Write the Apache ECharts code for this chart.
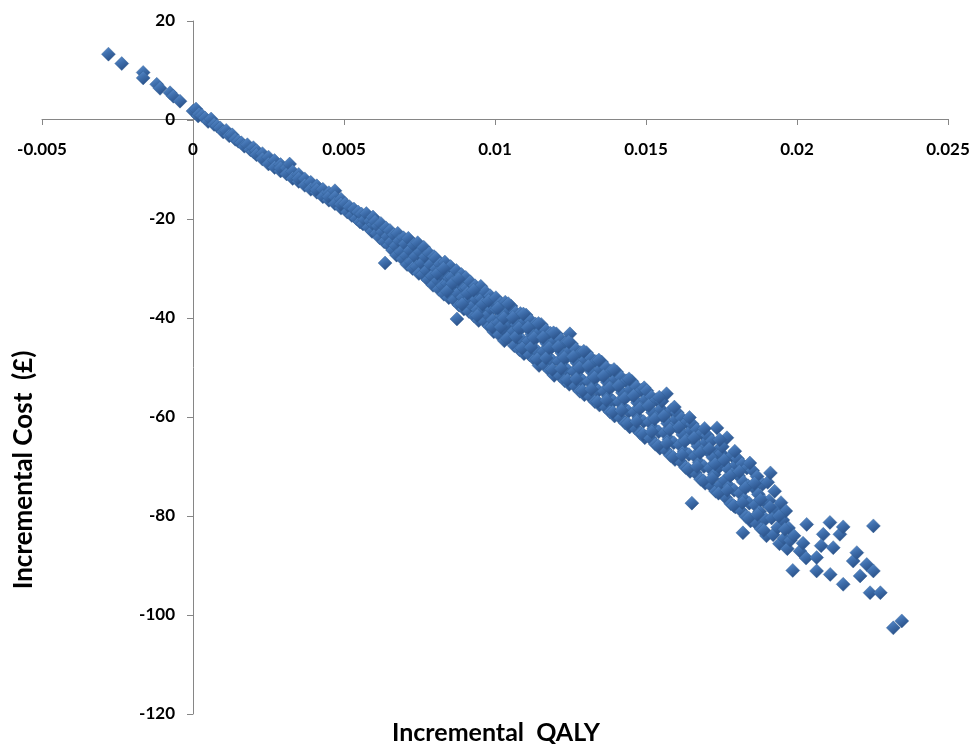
<!DOCTYPE html>
<html><head><meta charset="utf-8">
<script src="https://cdn.jsdelivr.net/npm/echarts@6/dist/echarts.min.js"></script>
<style>html,body{margin:0;padding:0;background:#fff}#c{width:975px;height:744px}</style>
</head><body><div id="c"></div>
<script>
const xTitle = 'Incremental  QALY';
const yTitle = 'Incremental Cost  (£)';

// Points with negative incremental QALY (upper-left)
const upperLeft = [[-0.0028,13.3],[-0.00236,11.4],[-0.00165,9.6],[-0.00165,8.5],[-0.0012,7.2],[-0.00109,6.4],[-0.00076,5.5],[-0.00065,4.8],[-0.00043,3.8]];

// Band 0 .. 0.005
const bandA = [[0,1.8],[0.00017,0.8],[0.0001,2.2],[0.0002,1.2],[0.0003,0.9],[0.0004,0.4],[0.0005,-0.3],[0.0006,0.2],[0.0007,-0.9],[0.0008,-1.2],[0.0009,-1.6],[0.001,-2.4],[0.0011,-2.1],[0.0012,-3.2],[0.0013,-3.0],[0.0014,-3.9],[0.0015,-4.3],[0.0016,-4.6],[0.0017,-5.3],[0.0018,-5.0],[0.0019,-6.0],[0.002,-6.4],[0.002,-5.6],
[0.0021,-6.2],[0.0021,-7.0],[0.0023,-6.8],[0.0023,-7.9],[0.0025,-7.5],[0.0025,-8.9],[0.0027,-8.2],[0.0027,-9.6],[0.0029,-9.0],[0.0029,-10.3],[0.0029,-9.7],[0.0031,-9.7],[0.0031,-10.9],[0.0032,-8.9],[0.0033,-10.4],[0.0033,-11.8],[0.0035,-11.0],[0.0035,-12.4],[0.0035,-11.8],[0.0037,-11.9],[0.0037,-13.2],[0.0039,-12.6],[0.0039,-14.0],[0.0041,-13.3],[0.0041,-14.6],[0.0041,-14.1],[0.0043,-14.0],[0.0043,-15.5],[0.0045,-14.7],[0.0045,-16.2],[0.0045,-15.5],[0.0047,-14.3],[0.0047,-15.6],[0.0047,-16.9],[0.0049,-16.0],[0.0049,-17.8],[0.0049,-17.0]];

// Band 0.005 .. 0.01
const bandB = [[0.00504,-16.9],[0.00511,-18.6],[0.00518,-17.5],[0.00526,-19.3],[0.00533,-18.0],[0.00541,-19.9],[0.00547,-18.6],[0.00553,-20.6],
[0.00558,-19.0],[0.00563,-21.0],[0.00569,-20.1],[0.00574,-18.9],[0.00581,-21.7],[0.00587,-20.4],[0.00593,-22.5],[0.00598,-21.1],[0.00596,-19.6],
[0.00603,-20.5],[0.00608,-22.9],[0.00612,-21.4],[0.00618,-23.8],[0.00622,-20.9],[0.00627,-22.6],[0.00633,-24.6],[0.00636,-28.9],[0.00639,-21.8],[0.00644,-23.5],[0.00648,-25.3],
[0.00652,-22.3],[0.00656,-24.6],[0.00661,-26.3],[0.00665,-23.2],[0.00671,-25.4],[0.00674,-27.3],[0.00678,-22.9],[0.00683,-24.4],[0.00688,-26.6],[0.00694,-28.1],[0.00697,-23.8],
[0.00702,-25.0],[0.00706,-27.4],[0.00709,-29.2],[0.00713,-23.9],[0.00718,-26.3],[0.00722,-28.6],[0.00727,-30.0],[0.00731,-25.2],[0.00736,-27.5],[0.00741,-29.6],[0.00744,-24.8],[0.00748,-31.0],
[0.00752,-26.6],[0.00757,-28.9],[0.00761,-31.2],[0.00764,-25.7],[0.00769,-27.6],[0.00773,-30.4],[0.00778,-32.3],[0.00782,-26.9],[0.00786,-29.2],[0.00791,-31.5],[0.00795,-33.4],[0.00798,-27.6],
[0.00803,-27.9],[0.00806,-30.0],[0.00811,-32.4],[0.00814,-34.2],[0.00818,-29.1],[0.00823,-31.3],[0.00827,-33.5],[0.00831,-35.2],[0.00834,-28.7],[0.00839,-30.8],[0.00843,-33.0],[0.00847,-35.9],[0.00849,-31.9],
[0.00853,-29.6],[0.00857,-31.7],[0.00861,-34.0],[0.00864,-36.3],[0.00868,-32.6],[0.00874,-40.2],[0.00872,-30.4],[0.00877,-35.0],[0.00881,-37.4],[0.00884,-33.1],[0.00889,-31.2],[0.00893,-35.8],[0.00897,-38.2],[0.00899,-34.0],
[0.00903,-31.8],[0.00907,-33.9],[0.00911,-36.4],[0.00914,-38.7],[0.00918,-32.7],[0.00922,-35.1],[0.00926,-37.6],[0.00931,-39.6],[0.00934,-33.5],[0.00938,-36.2],[0.00942,-38.3],[0.00946,-40.5],[0.00949,-34.6],
[0.00953,-33.6],[0.00956,-36.0],[0.00961,-38.1],[0.00964,-40.6],[0.00968,-34.7],[0.00972,-37.3],[0.00976,-39.4],[0.00981,-41.7],[0.00984,-35.5],[0.00988,-38.2],[0.00992,-40.4],[0.00996,-42.8],[0.00999,-36.9],
[0.00809,-31.0],[0.00829,-30.0],[0.00841,-34.6],[0.00859,-33.0],[0.00879,-32.1],[0.00891,-37.2],[0.00909,-35.0],[0.00929,-34.4],[0.00941,-39.5],[0.00959,-37.2],[0.00979,-36.5],[0.00991,-41.8]];

// Band 0.01 .. 0.015
const bandC = [[0.01003,-35.9],[0.01006,-38.3],[0.01011,-40.9],[0.01014,-43.4],[0.01018,-37.0],[0.01022,-39.6],[0.01027,-42.2],[0.01031,-44.6],[0.01034,-36.8],[0.01038,-39.1],[0.01042,-41.4],[0.01046,-43.9],[0.01049,-38.2],
[0.01053,-37.6],[0.01057,-40.2],[0.01061,-42.7],[0.01064,-45.6],[0.01068,-38.9],[0.01072,-41.3],[0.01076,-44.0],[0.01081,-46.4],[0.01084,-39.1],[0.01088,-42.0],[0.01092,-44.5],[0.01096,-47.2],[0.01099,-40.6],
[0.01103,-39.4],[0.01107,-42.0],[0.01111,-44.6],[0.01114,-47.4],[0.01118,-40.5],[0.01122,-43.3],[0.01126,-45.9],[0.01131,-48.4],[0.01134,-41.2],[0.01138,-43.9],[0.01142,-46.8],[0.01146,-49.6],[0.01149,-42.7],
[0.01153,-41.3],[0.01157,-44.1],[0.01161,-46.7],[0.01164,-49.5],[0.01168,-42.4],[0.01172,-45.2],[0.01176,-47.8],[0.01181,-50.6],[0.01184,-43.1],[0.01188,-45.9],[0.01192,-48.7],[0.01196,-51.6],[0.01199,-44.5],
[0.01203,-43.2],[0.01207,-46.0],[0.01211,-48.7],[0.01214,-51.6],[0.01218,-44.3],[0.01222,-47.1],[0.01226,-49.8],[0.01231,-52.7],[0.01234,-45.0],[0.01238,-47.9],[0.01242,-50.6],[0.01246,-53.4],[0.01248,-43.2],[0.01249,-46.5],
[0.01253,-45.2],[0.01257,-48.0],[0.01261,-50.8],[0.01264,-53.7],[0.01268,-46.3],[0.01272,-49.1],[0.01276,-51.8],[0.01281,-54.8],[0.01284,-47.0],[0.01288,-49.9],[0.01292,-52.7],[0.01296,-55.5],[0.01299,-48.4],
[0.01303,-47.0],[0.01307,-49.9],[0.01311,-52.8],[0.01314,-55.8],[0.01318,-48.1],[0.01322,-51.0],[0.01326,-53.8],[0.01331,-56.9],[0.01334,-48.8],[0.01338,-51.8],[0.01342,-54.7],[0.01346,-57.6],[0.01349,-50.3],
[0.01353,-48.9],[0.01357,-51.8],[0.01361,-54.8],[0.01364,-57.9],[0.01368,-50.0],[0.01372,-53.0],[0.01376,-55.9],[0.01381,-59.0],[0.01384,-50.7],[0.01388,-53.8],[0.01392,-56.8],[0.01396,-59.8],[0.01399,-52.3],
[0.01403,-50.9],[0.01407,-53.8],[0.01411,-56.9],[0.01414,-60.1],[0.01418,-52.0],[0.01422,-55.1],[0.01426,-58.1],[0.01431,-61.2],[0.01434,-52.7],[0.01438,-55.8],[0.01442,-58.9],[0.01446,-62.0],[0.01449,-54.4],
[0.01453,-52.8],[0.01457,-55.8],[0.01461,-59.0],[0.01464,-62.2],[0.01468,-53.9],[0.01472,-57.1],[0.01476,-60.2],[0.01481,-63.3],[0.01484,-54.6],[0.01488,-57.8],[0.01492,-60.9],[0.01496,-64.2],[0.01499,-56.4]];

// Extra points filling the dense part of the band 0.01 .. 0.015
const bandCfill = [[0.01009,-38.0],[0.01019,-41.8],[0.01029,-40.0],[0.01040,-44.1],[0.01044,-37.1],
[0.01059,-39.9],[0.01069,-43.8],[0.01079,-42.0],[0.01090,-46.1],[0.01094,-39.2],
[0.01109,-41.9],[0.01119,-45.9],[0.01129,-44.0],[0.01140,-48.3],[0.01144,-41.1],
[0.01159,-43.9],[0.01169,-48.1],[0.01179,-46.0],[0.01190,-50.4],[0.01194,-43.0],
[0.01209,-45.8],[0.01219,-50.2],[0.01229,-48.0],[0.01240,-52.5],[0.01244,-44.8],
[0.01259,-47.8],[0.01269,-52.3],[0.01279,-50.0],[0.01290,-54.7],[0.01294,-46.7],
[0.01309,-49.7],[0.01319,-54.4],[0.01329,-52.0],[0.01340,-56.9],[0.01344,-48.5],
[0.01359,-51.7],[0.01369,-56.6],[0.01379,-54.1],[0.01390,-59.0],[0.01394,-50.4],
[0.01409,-53.7],[0.01419,-58.7],[0.01429,-56.2],[0.01440,-61.3],[0.01444,-52.3],
[0.01459,-55.7],[0.01469,-60.9],[0.01479,-58.3],[0.01490,-63.5],[0.01494,-54.1]];

// Band 0.015 .. 0.0198
const bandD = [[0.01503,-54.7],[0.01507,-57.8],[0.01511,-61.0],[0.01514,-64.3],[0.01518,-55.9],[0.01522,-59.1],[0.01526,-62.3],[0.01531,-65.5],[0.01534,-56.5],[0.01538,-59.8],[0.01542,-63.0],[0.01546,-66.3],[0.01549,-58.4],
[0.01553,-56.8],[0.01557,-60.0],[0.01561,-63.2],[0.01564,-66.6],[0.01568,-55.3],[0.01572,-61.3],[0.01576,-64.5],[0.01581,-67.8],[0.01584,-58.6],[0.01588,-61.9],[0.01592,-65.2],[0.01596,-68.6],[0.01599,-60.4],
[0.01603,-59.1],[0.01607,-62.3],[0.01611,-65.6],[0.01614,-69.0],[0.01618,-60.2],[0.01622,-63.6],[0.01626,-66.9],[0.01631,-70.2],[0.01634,-61.0],[0.01638,-64.3],[0.01642,-67.6],[0.01646,-71.0],[0.01649,-62.7],
[0.01652,-77.4],[0.01653,-61.4],[0.01657,-64.6],[0.01661,-67.9],[0.01664,-71.3],[0.01668,-62.5],[0.01672,-65.9],[0.01676,-69.2],[0.01681,-72.6],[0.01684,-63.3],[0.01688,-66.6],[0.01692,-70.0],[0.01696,-73.4],[0.01699,-65.0],
[0.01703,-63.7],[0.01707,-67.0],[0.01711,-70.3],[0.01714,-73.8],[0.01718,-64.8],[0.01722,-68.2],[0.01726,-71.6],[0.01731,-75.0],[0.01735,-62.2],[0.01738,-66.7],[0.01742,-70.1],[0.01746,-73.6],[0.01749,-67.3],
[0.01753,-66.0],[0.01757,-69.4],[0.01761,-72.8],[0.01764,-76.3],[0.01768,-64.2],[0.01772,-70.5],[0.01776,-74.0],[0.01781,-77.5],[0.01784,-67.8],[0.01788,-71.3],[0.01792,-74.8],[0.01796,-78.2],[0.01799,-69.6],
[0.01803,-68.4],[0.01807,-71.9],[0.01811,-75.4],[0.01814,-78.9],[0.01818,-69.5],[0.01821,-83.4],[0.01822,-73.1],[0.01826,-76.6],[0.01831,-80.1],[0.01834,-70.3],[0.01838,-73.9],[0.01842,-77.4],[0.01846,-81.0],
[0.01853,-70.8],[0.01857,-74.3],[0.01861,-77.8],[0.01864,-81.4],[0.01868,-72.0],[0.01872,-75.6],[0.01876,-79.1],[0.01881,-82.6],[0.01886,-73.6],[0.01891,-77.0],[0.01896,-80.6],[0.01899,-84.0],
[0.01903,-73.2],[0.01908,-76.9],[0.01912,-71.3],[0.01916,-80.4],[0.01921,-83.8],[0.01926,-75.0],[0.01931,-78.6],[0.01936,-82.3],[0.01942,-85.6],[0.01947,-77.3],[0.01953,-80.8],[0.01958,-84.5],[0.01963,-79.0],[0.01968,-86.6],[0.01972,-82.4],[0.01978,-84.9]];

// Extra points filling the band 0.015 .. 0.0196
const bandDfill = [[0.01509,-57.7],[0.01519,-63.0],[0.01529,-60.4],[0.01540,-65.8],[0.01544,-56.0],
[0.01559,-59.8],[0.01569,-65.3],[0.01579,-62.6],[0.01590,-68.1],[0.01594,-58.0],
[0.01609,-62.0],[0.01619,-67.7],[0.01629,-64.9],[0.01640,-70.5],[0.01644,-60.1],
[0.01659,-64.2],[0.01669,-70.0],[0.01679,-67.2],[0.01690,-72.9],[0.01694,-62.3],
[0.01709,-66.4],[0.01719,-72.4],[0.01729,-69.5],[0.01740,-75.4],[0.01744,-64.6],
[0.01759,-68.7],[0.01769,-74.8],[0.01779,-71.9],[0.01790,-77.9],[0.01794,-66.9],
[0.01809,-71.0],[0.01819,-77.3],[0.01829,-74.3],[0.01840,-80.4],[0.01844,-69.3],
[0.01859,-73.4],[0.01869,-79.7],[0.01879,-76.7],[0.01890,-82.9],
[0.01910,-78.2],[0.01940,-80.0],[0.01960,-82.7]];

// Sparse tail beyond 0.0198
const tail = [[0.01986,-91.0],[0.0199,-84.0],[0.0201,-87.1],[0.02032,-81.7],[0.0202,-85.5],[0.0203,-88.5],[0.02065,-91.1],[0.02065,-88.4],[0.02087,-83.7],[0.0208,-86.0],[0.02109,-81.3],[0.0211,-91.8],[0.0212,-86.4],[0.02142,-83.7],[0.02153,-82.2],[0.02153,-93.8],[0.02186,-89.1],[0.02198,-87.4],[0.02209,-92.1],[0.02231,-89.8],[0.02253,-91.1],[0.02253,-82.0],[0.02242,-95.5],[0.02276,-95.5],[0.02319,-102.6],[0.02347,-101.2]];

const points = [].concat(upperLeft, bandA, bandB, bandC, bandCfill, bandD, bandDfill, tail);

const chart = echarts.init(document.getElementById('c'));
const font = 'Lato, "Open Sans", sans-serif';
const markerColor = new echarts.graphic.LinearGradient(0, 0, 0.6, 1, [
  {offset: 0, color: '#6396d6'},
  {offset: 0.5, color: '#3f6fad'},
  {offset: 1, color: '#294f86'}
]);
chart.setOption({
  animation: false,
  backgroundColor: '#ffffff',
  grid: {left: 42, right: 27, top: 21, bottom: 30, containLabel: false, outerBoundsMode: 'none'},
  xAxis: {
    type: 'value', min: -0.005, max: 0.025, interval: 0.005,
    position: 'bottom', offset: -595,
    axisLine: {show: true, onZero: false, lineStyle: {color: '#868686', width: 1}},
    axisTick: {show: true, inside: false, length: 6, lineStyle: {color: '#868686'}},
    splitLine: {show: false},
    axisLabel: {margin: 22, color: '#000', fontFamily: font, fontWeight: 'bold', fontSize: 17}
  },
  yAxis: {
    type: 'value', min: -120, max: 20, interval: 20,
    position: 'left', offset: -151,
    axisLine: {show: true, onZero: false, lineStyle: {color: '#868686', width: 1}},
    axisTick: {show: true, inside: false, length: 6, lineStyle: {color: '#868686'}},
    splitLine: {show: false},
    axisLabel: {margin: 18, color: '#000', fontFamily: font, fontWeight: 'bold', fontSize: 17}
  },
  graphic: [
    {type: 'text', x: 496, y: 733, style: {text: xTitle, fill: '#000', font: 'bold 25px ' + font, textAlign: 'center', textVerticalAlign: 'middle'}},
    {type: 'text', x: 24, y: 470, rotation: Math.PI / 2, style: {text: yTitle, fill: '#000', font: 'bold 26px ' + font, textAlign: 'center', textVerticalAlign: 'middle'}}
  ],
  series: [{
    type: 'scatter',
    data: points,
    symbol: 'diamond',
    symbolSize: 14,
    itemStyle: {color: markerColor, opacity: 1, borderColor: '#2f5d93', borderWidth: 0.4}
  }]
});
</script></body></html>
